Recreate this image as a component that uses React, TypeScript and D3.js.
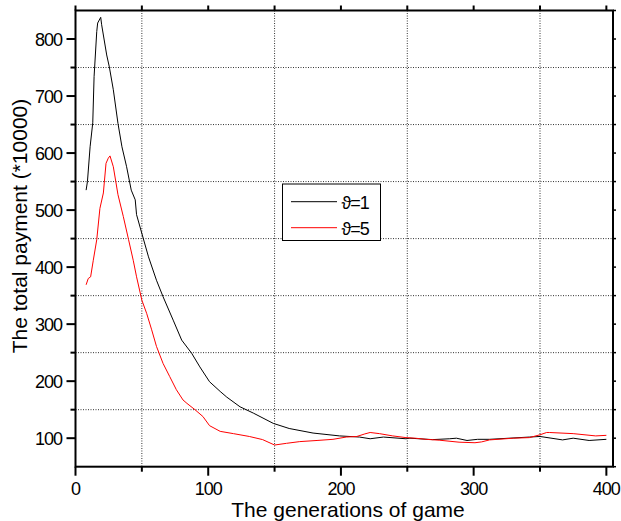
import React from "react";
import * as d3 from "d3";

const seriesNames = ["ϑ=1", "ϑ=5"];
const seriesColors = ["#000000", "#ff0000"];

const blackX = [8, 9, 11, 13, 14, 16, 16.7, 19, 19.7, 23.5, 25.5, 28.5, 32, 35, 38.5, 42, 45, 46, 50, 55, 61, 66, 73.6, 80, 87.5, 93.7, 101, 109, 114, 124, 134, 149, 161, 179, 199, 214, 222, 232, 249, 252, 269, 282, 287, 295, 303, 312, 342, 350, 367, 375, 387, 400];
const blackY = [535, 550, 611, 653, 734, 813, 828, 838, 825, 772, 751, 711, 652, 611, 576, 535, 518, 492, 459, 418, 377, 348, 307, 272, 249, 225, 199, 182, 172, 155, 144, 126, 117, 109, 104, 102, 99, 102, 99, 100, 97.5, 99, 100, 96, 98, 98, 102, 103, 97, 100, 96, 98];

const redX = [8, 9.6, 11.4, 13.4, 16, 18.4, 21, 23, 24.7, 26, 28.5, 32, 36, 40, 43.5, 46, 50, 53.6, 57.4, 61, 66, 71, 76, 81, 84, 90, 96, 101, 109, 119, 131, 141, 150, 159, 169, 182, 194, 204, 212, 218, 222, 229, 239, 249, 256, 264, 274, 289, 301, 306, 312, 330, 342, 350, 355, 357, 375, 392, 400];
const redY = [369, 380, 383, 412, 448, 503, 530, 582, 591, 595, 576, 527, 489, 448, 412, 383, 342, 319, 290, 261, 231, 208, 185, 167, 161, 150, 138, 122, 112, 108, 103, 97.5, 88, 91, 94, 96, 98, 102, 103, 107.5, 110, 108, 104, 101, 100, 98, 96.5, 93, 92, 93.5, 97, 100, 101, 106, 110, 110, 108, 104, 105];

const xMajor = [0, 100, 200, 300, 400];
const xMinor = [50, 150, 250, 350];
const yMajor = [100, 200, 300, 400, 500, 600, 700, 800];
const yMinor = [150, 250, 350, 450, 550, 650, 750];

const xTitle = "The generations of game";
const yTitle = "The total payment (*10000)";

const FONT = "'Liberation Sans', Arial, sans-serif";

export default function App() {
  const x = d3.scaleLinear().domain([0, 405]).range([75.5, 613]);
  const y = d3.scaleLinear().domain([50, 850]).range([466.7, 10.5]);
  const [x0, x1] = x.range();
  const [yb, yt] = y.range();

  const line = d3
    .line<[number, number]>()
    .x((d) => x(d[0]))
    .y((d) => y(d[1]));

  const black: [number, number][] = blackX.map((v, i) => [v, blackY[i]]);
  const red: [number, number][] = redX.map((v, i) => [v, redY[i]]);
  const series = [black, red];

  const allX = [...xMajor, ...xMinor];
  const allY = [50, ...yMajor, ...yMinor, 850];

  return (
    <svg
      width={621}
      height={521}
      style={{ position: "absolute", left: 0, top: 0, background: "#fff" }}
      fontFamily={FONT}
    >
      <rect x={0} y={0} width={621} height={521} fill="#fff" />
      {/* grid */}
      {xMinor.map((v) => (
        <line key={"gx" + v} x1={x(v)} x2={x(v)} y1={yt} y2={yb} stroke="#333" strokeWidth={1} strokeDasharray="1,1.5" />
      ))}
      {yMinor.map((v) => (
        <line key={"gy" + v} x1={x0} x2={x1} y1={y(v)} y2={y(v)} stroke="#333" strokeWidth={1} strokeDasharray="1,1.5" />
      ))}
      {/* series */}
      {series.map((s, i) => (
        <path key={"s" + i} d={line(s) || ""} fill="none" stroke={seriesColors[i]} strokeWidth={1} />
      ))}
      {/* frame */}
      <rect x={x0} y={yt} width={x1 - x0} height={yb - yt} fill="none" stroke="#000" strokeWidth={2} />
      {/* bottom ticks */}
      {xMajor.map((v) => (
        <line key={"bt" + v} x1={x(v)} x2={x(v)} y1={yb} y2={yb + 9} stroke="#000" strokeWidth={2} />
      ))}
      {xMinor.map((v) => (
        <line key={"btm" + v} x1={x(v)} x2={x(v)} y1={yb} y2={yb + 5} stroke="#000" strokeWidth={2} />
      ))}
      {/* top ticks */}
      {allX.map((v) => (
        <line key={"tt" + v} x1={x(v)} x2={x(v)} y1={yt} y2={yt - 5} stroke="#000" strokeWidth={2} />
      ))}
      {/* left ticks */}
      {yMajor.map((v) => (
        <line key={"lt" + v} x1={x0} x2={x0 - 9} y1={y(v)} y2={y(v)} stroke="#000" strokeWidth={2} />
      ))}
      {yMinor.map((v) => (
        <line key={"ltm" + v} x1={x0} x2={x0 - 5} y1={y(v)} y2={y(v)} stroke="#000" strokeWidth={2} />
      ))}
      {/* right ticks */}
      {allY.map((v) => (
        <line key={"rt" + v} x1={x1} x2={x1 + 3} y1={y(v)} y2={y(v)} stroke="#000" strokeWidth={1.5} />
      ))}
      {/* tick labels */}
      {xMajor.map((v) => (
        <text key={"xl" + v} x={x(v)} y={495} textAnchor="middle" fontSize={18} letterSpacing="-1px" fill="#000">
          {v}
        </text>
      ))}
      {yMajor.map((v) => (
        <text key={"yl" + v} x={62} y={y(v) + 6.5} textAnchor="end" fontSize={18} letterSpacing="-1px" fill="#000">
          {v}
        </text>
      ))}
      {/* axis titles */}
      <text x={348} y={517} textAnchor="middle" fontSize={21} fill="#000">
        {xTitle}
      </text>
      <text transform={`translate(27,226) rotate(-90)`} textAnchor="middle" fontSize={21} fill="#000">
        {yTitle}
      </text>
      {/* legend */}
      <rect x={282.5} y={184} width={98} height={56.5} fill="#fff" stroke="#000" strokeWidth={1} />
      {seriesNames.map((n, i) => (
        <g key={"lg" + i}>
          <line x1={291} x2={337} y1={201.7 + i * 26} y2={201.7 + i * 26} stroke={seriesColors[i]} strokeWidth={1} />
          <text x={341.5} y={208.5 + i * 26} fontSize={18} letterSpacing="-1px" fill="#000">
            {n}
          </text>
        </g>
      ))}
    </svg>
  );
}
